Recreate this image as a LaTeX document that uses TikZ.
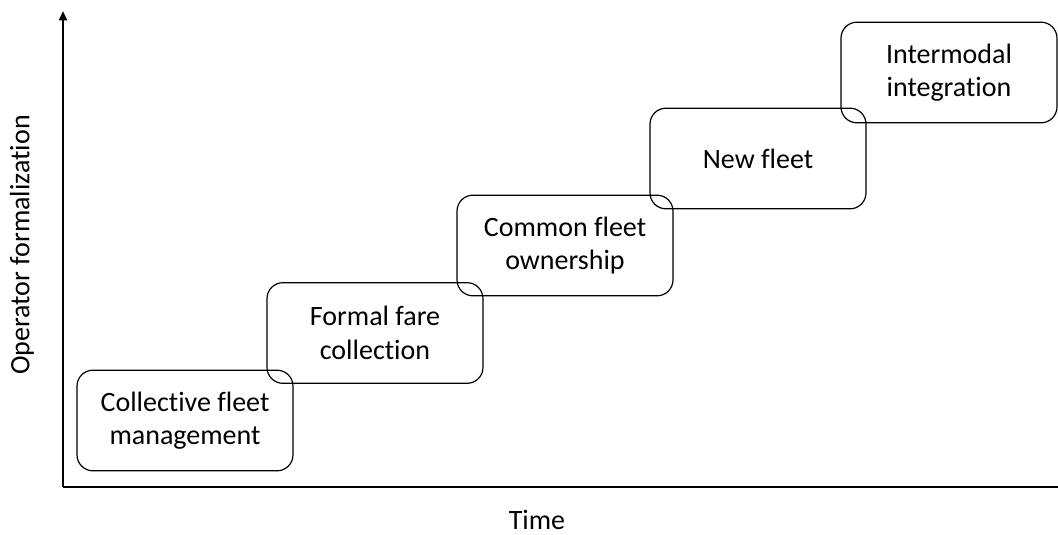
\documentclass[tikz,border=0pt]{standalone}
\usepackage{fontspec}
\setmainfont{Carlito}[RawFeature={-liga;-clig;-dlig;-calt;-hlig}]
\usetikzlibrary{arrows.meta,positioning}

\begin{document}
\begin{tikzpicture}[x=0.75pt,y=-0.75pt,>={Triangle[length=7pt,width=6pt]}]
        \tikzset{
                basic/.style = {font=\fontsize{21}{25}\selectfont, align=center},
                stage/.style = {basic, draw, line width=0.9pt, rounded corners=12pt,
                                minimum width=162pt, minimum height=75.5pt, inner sep=0pt},
                axis/.style  = {line width=1.5pt}
        }
        \useasboundingbox (0,0) rectangle (1058,535);

        % axes
        \coordinate (o) at (63,487);
        \coordinate (ytop) at (63,11);
        \coordinate (xend) at (1058,487);
        \draw[axis,->] (o) -- (ytop);
        \draw[axis] (o) -- (xend);
        \node[basic, rotate=90] (ylab) at (22,245) {Operator formalization};
        \node[basic, inner sep=0pt] (xlab) at (537,520) {Time};

        % the stages, stepping up to the right
        \node[stage] (c1) at (185,420.5) {Collective fleet\\management};
        \node[stage] (c2) at (375,333)   {Formal fare\\collection};
        \node[stage] (c3) at (565,245.5) {Common fleet\\ownership};
        \node[stage] (c4) at (758,158.5) {New fleet};
        \node[stage] (c5) at (949,72.5)  {Intermodal\\integration};
\end{tikzpicture}
\end{document}
